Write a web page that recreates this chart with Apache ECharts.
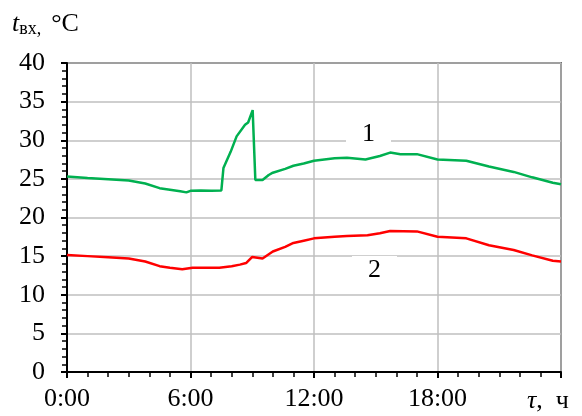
<!DOCTYPE html>
<html>
<head>
<meta charset="utf-8">
<script src="https://cdn.jsdelivr.net/npm/echarts@6/dist/echarts.min.js"></script>
<style>
  html, body { margin: 0; padding: 0; background: #fff; }
  #chart { width: 582px; height: 416px; }
</style>
</head>
<body>
<div id="chart"></div>
<script>
// время, ч и температура, °C
const hoursGreen = [0, 0.5, 1, 2, 3, 3.8, 4.5, 5, 5.5, 5.8, 6, 6.5, 7, 7.5, 7.6, 7.95, 8.24, 8.65, 8.8, 9.02, 9.15, 9.5, 9.8, 10, 10.6, 11, 11.5, 12, 13, 13.6, 14.5, 15.2, 15.7, 16.2, 17, 18, 19.4, 20.5, 21.7, 22.6, 23.6, 24]
const tempGreen = [25.3, 25.2, 25.1, 24.95, 24.8, 24.4, 23.8, 23.6, 23.4, 23.25, 23.45, 23.5, 23.45, 23.5, 26.4, 28.5, 30.5, 32.0, 32.3, 33.9, 24.85, 24.85, 25.5, 25.8, 26.3, 26.7, 27.0, 27.35, 27.66, 27.74, 27.5, 27.96, 28.4, 28.2, 28.2, 27.5, 27.35, 26.6, 25.9, 25.2, 24.5, 24.3]
const hoursRed = [0, 1, 2, 3, 3.8, 4.5, 5, 5.6, 6.1, 7.4, 8, 8.4, 8.7, 9, 9.5, 10, 10.6, 11, 11.5, 12, 13, 13.6, 14.6, 15.2, 15.7, 17, 18, 19.4, 20.5, 21.7, 22.6, 23.6, 24]
const tempRed = [15.15, 15.0, 14.85, 14.7, 14.3, 13.7, 13.5, 13.3, 13.5, 13.5, 13.7, 13.9, 14.1, 14.9, 14.7, 15.6, 16.2, 16.7, 17.0, 17.3, 17.5, 17.6, 17.7, 17.95, 18.25, 18.2, 17.5, 17.3, 16.4, 15.8, 15.1, 14.4, 14.3]
const curveNames = ['1', '2']

const serif = 'Liberation Serif'
const pairs = (xs, ys) => xs.map((x, i) => [x, ys[i]])

const chart = echarts.init(document.getElementById('chart'))
chart.setOption({
  animation: false,
  grid: {
    left: 67,
    right: 21,
    top: 63,
    bottom: 44,
    show: true,
    borderColor: '#000',
    borderWidth: 1.5
  },
  xAxis: {
    type: 'value',
    min: 0,
    max: 24,
    interval: 6,
    axisLine: { lineStyle: { color: '#000', width: 2 } },
    axisTick: { length: 6, lineStyle: { color: '#000', width: 2 } },
    minorTick: { show: true, splitNumber: 6, length: 5, lineStyle: { color: '#000', width: 1.5 } },
    splitLine: { lineStyle: { color: '#bfbfbf', width: 1.5 } },
    axisLabel: {
      color: '#000',
      fontFamily: serif,
      fontSize: 26,
      margin: 14,
      formatter: v => (v >= 24 ? '' : v + ':00')
    }
  },
  yAxis: {
    type: 'value',
    min: 0,
    max: 40,
    interval: 5,
    axisLine: { show: true, lineStyle: { color: '#000', width: 2 } },
    axisTick: { show: true, length: 6, lineStyle: { color: '#000', width: 2 } },
    minorTick: { show: true, splitNumber: 5, length: 5, lineStyle: { color: '#000', width: 1.5 } },
    splitLine: { lineStyle: { color: '#bfbfbf', width: 1.5 } },
    axisLabel: { color: '#000', fontFamily: serif, fontSize: 26, margin: 22 }
  },
  series: [
    {
      name: curveNames[0],
      type: 'line',
      data: pairs(hoursGreen, tempGreen),
      symbol: 'none',
      lineStyle: { color: '#00b050', width: 2.5 },
      z: 3
    },
    {
      name: curveNames[1],
      type: 'line',
      data: pairs(hoursRed, tempRed),
      symbol: 'none',
      lineStyle: { color: '#ff0000', width: 2.5 },
      z: 3
    }
  ],
  graphic: [
    {
      type: 'text', left: 12, top: 11,
      style: {
        text: '{i|t}{s|вх,}   {n|°C}',
        rich: {
          i: { fontFamily: serif, fontSize: 26, fontStyle: 'italic', fill: '#000' },
          s: { fontFamily: serif, fontSize: 18, fill: '#000', padding: [10, 0, 0, 0] },
          n: { fontFamily: serif, fontSize: 26, fill: '#000' }
        }
      }
    },
    {
      type: 'text', left: 527, top: 388,
      style: {
        text: '{i|τ}{n|,  ч}',
        rich: {
          i: { fontFamily: serif, fontSize: 26, fontStyle: 'italic', fill: '#000' },
          n: { fontFamily: serif, fontSize: 26, fill: '#000' }
        }
      }
    },
    {
      type: 'text', left: 346, top: 120, z: 10,
      style: {
        text: curveNames[0], fontFamily: serif, fontSize: 26, fill: '#000',
        backgroundColor: '#fff', padding: [1, 16, 1, 16]
      }
    },
    {
      type: 'text', left: 352, top: 256, z: 10,
      style: {
        text: curveNames[1], fontFamily: serif, fontSize: 26, fill: '#000',
        backgroundColor: '#fff', padding: [1, 16, 1, 16]
      }
    }
  ]
})
</script>
</body>
</html>
